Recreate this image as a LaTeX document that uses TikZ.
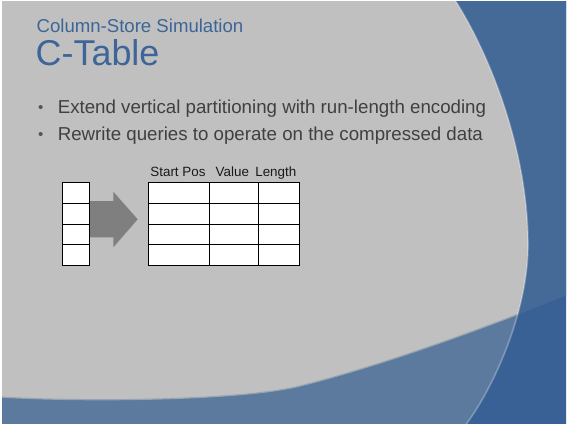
\documentclass[tikz,border=0pt]{standalone}
\usepackage{fontspec}
\setmainfont{Liberation Sans}
\begin{document}
\begin{tikzpicture}[x=1pt,y=-1pt,
  cell/.style={draw=black, line width=0.8pt, fill=white, inner sep=0pt,
    anchor=north west, minimum height=20.7pt},
  lcell/.style={cell, minimum width=27pt},
  hdr/.style={anchor=base west, inner sep=0pt, text=black!90,
    font=\fontsize{13.4}{15}\selectfont},
  bullet/.style={anchor=base west, inner sep=0pt, text=textgrey,
    font=\fontsize{18.7}{22}\selectfont},
  dotmark/.style={anchor=base, inner sep=0pt, text=dotgrey,
    font=\fontsize{15}{17}\selectfont}]
\definecolor{panelgrey}{HTML}{C0C0C0}
\definecolor{deepblue}{HTML}{3A6195}
\definecolor{midblue}{HTML}{466A98}
\definecolor{paleblue}{HTML}{5B7A9E}
\definecolor{titleblue}{HTML}{3D6597}
\definecolor{textgrey}{HTML}{404040}
\definecolor{dotgrey}{HTML}{555555}
\definecolor{arrowgrey}{HTML}{7F7F7F}

\useasboundingbox (0,0) rectangle (567,426);
\fill[white] (0,0) rectangle (567,426);

% slide background: blue field, grey panel and the lower swoosh
\begin{scope}
  \clip (2,1) rectangle (566,423);
  \fill[deepblue] (0,0) rectangle (567,426);
  \fill[midblue] (0,0) -- (567,0) -- (567,295)
    .. controls (480,330) and (380,366) .. (300,386)
    .. controls (240,401) and (80,402) .. (0,397) -- cycle;
  \begin{scope}
    \clip (0,0) -- (455,0) .. controls (490,55) and (528,150) .. (528,245)
      .. controls (528,310) and (495,385) .. (467,423) -- (463,430) -- (0,430) -- cycle;
    \fill[paleblue] (0,0) rectangle (567,430);
    \fill[panelgrey] (0,0) -- (567,0) -- (567,295)
      .. controls (480,330) and (380,366) .. (300,386)
      .. controls (240,401) and (80,402) .. (0,397) -- cycle;
    % soft edge of the swoosh
    \draw[panelgrey!60!paleblue, line width=1.2pt]
      (567,295) .. controls (480,330) and (380,366) .. (300,386)
      .. controls (240,401) and (80,402) .. (0,397);
  \end{scope}
  % light rim along the panel's right edge
  \draw[white, opacity=0.28, line width=1.6pt]
    (455,0) .. controls (490,55) and (528,150) .. (528,245)
    .. controls (528,310) and (495,385) .. (467,423) -- (463,430);
\end{scope}

% titles
\node[anchor=base west, inner sep=0pt, text=titleblue,
  font=\fontsize{18.6}{22}\selectfont] (subtitle) at (36.4,32.3) {Column-Store Simulation};
\node[anchor=base west, inner sep=0pt, text=titleblue,
  font=\fontsize{35.9}{40}\selectfont] (title) at (35.5,65.7) {C-Table};

% bullet list
\node[dotmark] (dot1) at (40.7,112.6) {•};
\node[bullet] (item1) at (57.6,113) {Extend vertical partitioning with run-length encoding};
\node[dotmark] (dot2) at (40.7,139.6) {•};
\node[bullet] (item2) at (57.6,140) {Rewrite queries to operate on the compressed data};

% block arrow between the column and the run-length table
\fill[arrowgrey] (89.3,201) -- (113.3,201) -- (113.3,191.7) -- (137.7,219.3)
  -- (113.3,247.3) -- (113.3,237.3) -- (89.3,237.3) -- cycle;

% single column
\node[lcell] (c1) at (62.3,182.3) {};
\node[lcell] (c2) at (62.3,203) {};
\node[lcell] (c3) at (62.3,223.7) {};
\node[lcell] (c4) at (62.3,244.3) {};

% run-length table: start position, value, length
\foreach \r/\y in {1/182.3, 2/203, 3/223.7, 4/244.3} {
  \node[cell, minimum width=61pt] (s\r) at (148.3,\y) {};
  \node[cell, minimum width=48.4pt] (v\r) at (209.3,\y) {};
  \node[cell, minimum width=41.6pt] (l\r) at (257.7,\y) {};
}

\node[hdr] (hstart) at (150.2,176.7) {Start Pos};
\node[hdr] (hvalue) at (215.5,176.7) {Value};
\node[hdr] (hlength) at (255.1,176.7) {Length};
\end{tikzpicture}
\end{document}
